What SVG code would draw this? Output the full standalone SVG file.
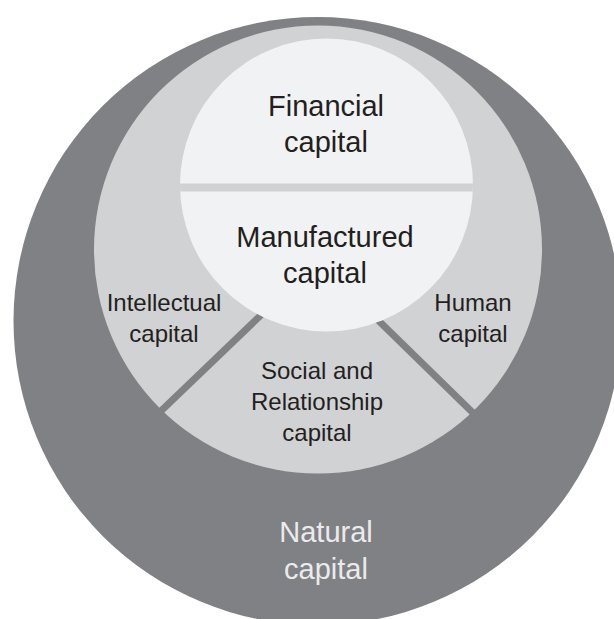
<svg xmlns="http://www.w3.org/2000/svg" width="614" height="619" viewBox="0 0 614 619">
<style>
  .lbl { font-family: "Liberation Sans", Arial, sans-serif; fill: #231f20; text-anchor: middle; }
  .big { font-size: 29px; }
  .small { font-size: 24px; }
  .nat { fill: #ebebec; }
</style>
<defs>
  <clipPath id="innerClip"><circle cx="326.5" cy="185" r="146.5"/></clipPath>
</defs>
<rect width="614" height="619" fill="#ffffff"/>
<g id="natural">
  <circle cx="317.5" cy="321" r="304" fill="#808184"/>
  <text class="lbl big nat" x="326" y="542">Natural</text>
  <text class="lbl big nat" x="326" y="579">capital</text>
</g>
<g id="middle-ring">
  <circle cx="318" cy="249.5" r="224" fill="#d1d2d4"/>
</g>
<g id="dividers" stroke="#808184" stroke-width="7" fill="none">
  <line x1="300" y1="277.6" x2="150" y2="421.5"/>
  <line x1="340" y1="283" x2="490" y2="429.6"/>
</g>
<g id="intellectual">
  <text class="lbl small" x="164" y="311">Intellectual</text>
  <text class="lbl small" x="164" y="342">capital</text>
</g>
<g id="human">
  <text class="lbl small" x="473" y="311">Human</text>
  <text class="lbl small" x="473" y="342">capital</text>
</g>
<g id="social">
  <text class="lbl small" x="317" y="379">Social and</text>
  <text class="lbl small" x="317" y="410">Relationship</text>
  <text class="lbl small" x="317" y="441">capital</text>
</g>
<g id="inner">
  <circle cx="326.5" cy="185" r="146.5" fill="#f1f2f3"/>
  <rect x="170" y="183.5" width="320" height="8" fill="#d1d2d4" clip-path="url(#innerClip)"/>
</g>
<g id="financial">
  <text class="lbl big" x="326" y="116">Financial</text>
  <text class="lbl big" x="326" y="152">capital</text>
</g>
<g id="manufactured">
  <text class="lbl big" x="325" y="246.5">Manufactured</text>
  <text class="lbl big" x="325" y="282.5">capital</text>
</g>
</svg>
